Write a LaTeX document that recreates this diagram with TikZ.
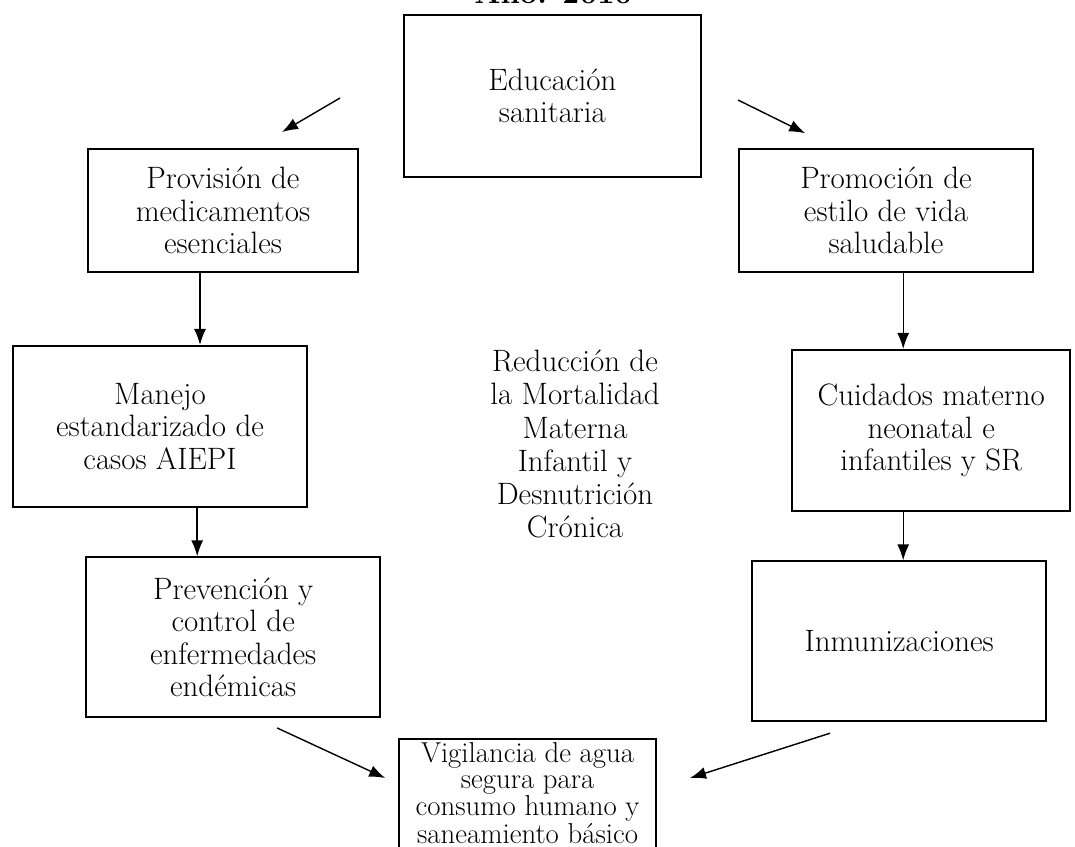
\documentclass[tikz,border=0pt]{standalone}
\usepackage{amsfonts,amssymb,amsmath}
\usepackage{tikz}
\usetikzlibrary{arrows.meta}
\usetikzlibrary{calc}
\usetikzlibrary{positioning}
\tikzstyle{box}=[draw=black,line width=1.2pt,inner sep=2pt,align=center,font=\fontsize{22}{23}\selectfont]
\tikzstyle{plain}=[inner sep=0pt,align=center,font=\fontsize{22}{23.5}\selectfont]
\tikzset{>={Latex[length=4mm,width=3mm]}}
\tikzstyle{line}=[line width=1pt]
\tikzstyle{arrow}=[->,line]

\begin{document}
\begin{tikzpicture}

    \useasboundingbox (0,0) rectangle (26.875,-21.15);

    \node[plain,anchor=base] (year) at (13.83,-0.08) {\textbf{Año: 2010}};

    \node[box,minimum width=7.43cm,minimum height=4.05cm] (educacion) at (13.81,-2.40) {Educación\\ sanitaria};
    \node[box,minimum width=6.75cm,minimum height=3.08cm] (provision) at (5.575,-5.26) {Provisión de\\ medicamentos\\ esenciales};
    \node[box,minimum width=7.35cm,minimum height=3.08cm] (promocion) at (22.15,-5.26) {Promoción de\\ estilo de vida\\ saludable};
    \node[box,minimum width=7.35cm,minimum height=4.03cm] (manejo) at (4.0,-10.66) {Manejo\\ estandarizado de\\ casos AIEPI};
    \node[box,minimum width=6.95cm,minimum height=4.03cm] (cuidados) at (23.28,-10.76) {Cuidados materno\\ neonatal e\\ infantiles y SR};
    \node[box,minimum width=7.35cm,minimum height=4.0cm] (prevencion) at (5.83,-15.93) {Prevención y\\ control de\\ enfermedades\\ endémicas};
    \node[box,minimum width=7.35cm,minimum height=4.0cm] (inmunizacion) at (22.48,-16.03) {Inmunizaciones};
    \node[box,font=\fontsize{20.5}{18.3}\selectfont,minimum width=6.43cm,anchor=north,inner ysep=0.1cm,text depth=2cm] (vigilancia) at (13.19,-18.45) {Vigilancia de agua\\ segura para\\ consumo humano y\\ saneamiento básico};

    \node[plain] (reduccion) at (14.375,-11.1) {Reducción de\\ la Mortalidad\\ Materna\\ Infantil y\\ Desnutrición\\ Crónica};

    % free ends of the slanted arrows
    \coordinate (tl) at (8.5,-2.45);
    \coordinate (hl) at (7.05,-3.3);
    \coordinate (tr) at (18.45,-2.5);
    \coordinate (hr) at (20.13,-3.33);
    \coordinate (bl) at (6.93,-18.2);
    \coordinate (bhl) at (9.63,-19.45);
    \coordinate (br) at (20.75,-18.33);
    \coordinate (bhr) at (17.25,-19.45);

    \draw[arrow] (tl) -- (hl);
    \draw[arrow] (tr) -- (hr);
    \draw[arrow] (provision.south -| 5,0) -- (manejo.north -| 5,0);
    \draw[arrow] (manejo.south -| 4.93,0) -- (prevencion.north -| 4.93,0);
    \draw[arrow] (promocion.south -| 22.58,0) -- (cuidados.north -| 22.58,0);
    \draw[arrow] (cuidados.south -| 22.58,0) -- (inmunizacion.north -| 22.58,0);
    \draw[arrow] (bl) -- (bhl);
    \draw[arrow] (br) -- (bhr);

\end{tikzpicture}
\end{document}
